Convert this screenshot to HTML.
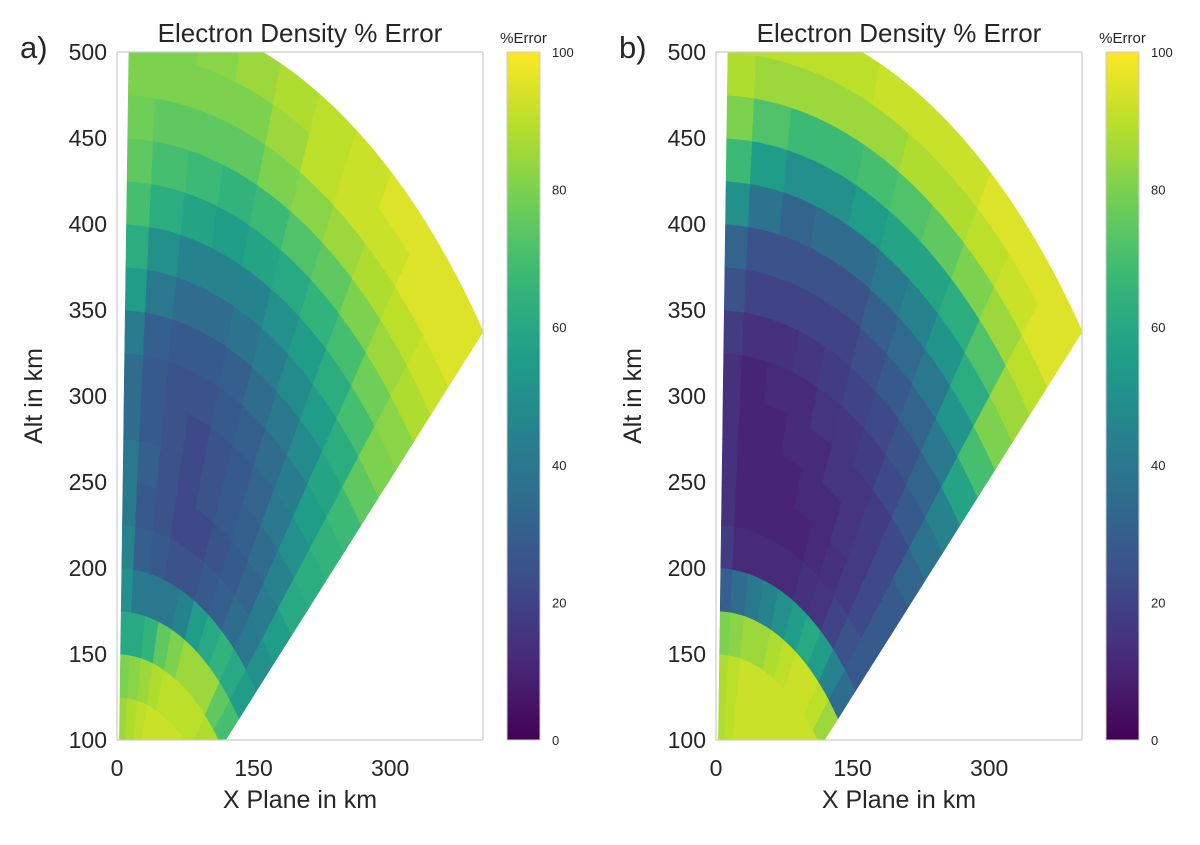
<!DOCTYPE html>
<html><head><meta charset="utf-8">
<style>
body{margin:0;background:#fff;font-family:"Liberation Sans",sans-serif;}
svg text{font-family:"Liberation Sans",sans-serif;fill:#262626;}
</style></head>
<body>
<svg id="fig" width="1200" height="840"></svg>
<script>
// radial bins (km, lower edge) and angle bins (deg, lower edge)
const radii = [100,125,150,175,200,225,250,275,300,325,350,375,400,425,450,475,500];
const angles = [40,45,50,55,60,65,70,75,80,85];
const xTicks = [0,150,300];
const yTicks = [100,150,200,250,300,350,400,450,500];
const cbTicks = [0,20,40,60,80,100];
const errA = [
[92,92,92,92,92,92,92,90,88,85],
[88,88,90,90,90,90,88,85,82,80],
[70,75,85,85,85,80,75,65,60,60],
[55,60,65,60,55,45,40,40,40,50],
[50,40,35,30,28,25,25,28,30,45],
[55,42,32,28,25,22,22,25,28,40],
[60,45,35,30,28,25,22,25,30,40],
[62,50,40,32,28,25,22,25,28,35],
[65,55,42,35,30,28,25,25,28,35],
[68,58,48,40,35,30,28,28,30,42],
[75,62,55,48,42,38,35,35,40,55],
[80,70,62,55,50,45,45,45,50,62],
[82,78,70,65,60,58,55,58,62,70],
[88,85,80,75,72,68,65,68,70,75],
[92,90,88,85,82,80,75,75,75,78],
[95,95,92,92,90,85,80,80,80,80],
[95,95,95,92,90,88,85,82,80,80]];
const errB = [
[92,92,92,92,92,92,92,92,90,88],
[92,92,92,92,92,92,92,92,90,88],
[85,90,92,92,90,88,85,85,82,80],
[35,45,55,60,55,50,45,40,35,30],
[28,25,20,15,14,12,12,12,12,18],
[28,22,17,14,12,10,10,10,10,14],
[28,22,17,15,12,12,10,10,10,14],
[32,22,18,15,15,12,12,10,10,14],
[38,28,22,18,16,15,12,12,10,14],
[45,32,26,22,20,18,16,14,14,18],
[58,40,32,28,24,20,20,20,20,25],
[70,52,40,34,30,25,25,25,25,32],
[80,62,52,45,40,35,35,32,38,50],
[85,72,62,58,58,55,50,50,55,68],
[90,85,80,75,72,70,68,68,72,80],
[95,92,90,88,88,85,85,85,85,88],
[95,95,95,92,92,92,90,90,90,90]];

const NS="http://www.w3.org/2000/svg";
const svg=document.getElementById('fig');
function mk(t,a,p){const e=document.createElementNS(NS,t);for(const k in a)e.setAttribute(k,a[k]);(p||svg).appendChild(e);return e;}
const vir=[[68,1,84],[72,40,120],[62,74,137],[49,104,142],[38,130,142],[31,158,137],[53,183,121],[110,206,88],[181,222,43],[253,231,37]];
function cmap(v){v=Math.max(0,Math.min(100,v))/100*9;const i=Math.min(8,Math.floor(v)),f=v-i;const a=vir[i],b=vir[i+1];
return 'rgb('+a.map((c,k)=>Math.round(c+(b[k]-c)*f)).join(',')+')';}

function panel(ox,label,data,id){
  const L=ox, T=52, W=366, H=688, XMAX=402, AMAX=88.5;
  const sx=x=>L+x/XMAX*W, sy=y=>T+H-(y-100)/400*H;
  const g=mk('g',{});
  
  
  const cp=mk('clipPath',{id:'clip'+id},g);
  mk('rect',{x:L,y:T,width:W,height:H},cp);
  const cells=mk('g',{'clip-path':'url(#clip'+id+')'},g);
  
  
  const dr=radii[1]-radii[0], da=angles[1]-angles[0];
  radii.forEach((r,i)=>angles.forEach((a,j)=>{
    const a1=Math.min(a+da,AMAX);
    const pts=[];
    for(let t=0;t<=5;t++){const th=(a+(a1-a)*t/5)*Math.PI/180;pts.push([sx(r*Math.cos(th)),sy(r*Math.sin(th))]);}
    for(let t=5;t>=0;t--){const th=(a+(a1-a)*t/5)*Math.PI/180;pts.push([sx((r+dr)*Math.cos(th)),sy((r+dr)*Math.sin(th))]);}
    const c=cmap(data[i][j]);
    const p=mk('polygon',{points:pts.map(q=>q[0].toFixed(1)+','+q[1].toFixed(1)).join(' '),fill:c,stroke:c,'stroke-width':0.6},cells);
    
    
  }));
  const fr=mk('rect',{x:L,y:T,width:W,height:H,fill:'none',stroke:'#cccccc','stroke-width':1.2},g);
  
  xTicks.forEach(v=>{const t=mk('text',{x:sx(v),y:776,'font-size':23,'text-anchor':'middle'},g);t.textContent=v;
    });
  yTicks.forEach(v=>{const t=mk('text',{x:L-10,y:sy(v)+8,'font-size':23,'text-anchor':'end'},g);t.textContent=v;
    });
  let t=mk('text',{x:L+W/2,y:42,'font-size':26,'text-anchor':'middle'},g);t.textContent='Electron Density % Error';
  
  t=mk('text',{x:L+W/2,y:808,'font-size':25,'text-anchor':'middle'},g);t.textContent='X Plane in km';
  
  t=mk('text',{x:0,y:0,'font-size':25,'text-anchor':'middle',transform:'translate('+(L-75)+','+(T+H/2)+') rotate(-90)'},g);t.textContent='Alt in km';
  
  t=mk('text',{x:L-97,y:58,'font-size':31},g);t.textContent=label;
  
  // colorbar
  const cx=L+390, cw=33;
  const gid='grad'+id;const lg=mk('linearGradient',{id:gid,x1:0,y1:1,x2:0,y2:0},g);
  for(let k=0;k<=20;k++)mk('stop',{offset:k/20,'stop-color':cmap(k*5)},lg);
  const cb=mk('rect',{x:cx,y:T,width:cw,height:H,fill:'url(#'+gid+')',stroke:'#cccccc','stroke-width':1},g);
  
  cbTicks.forEach(v=>{const tt=mk('text',{x:cx+cw+12,y:T+H-v/100*H+5,'font-size':13},g);tt.textContent=v;
    });
  t=mk('text',{x:cx+cw/2,y:43,'font-size':15,'text-anchor':'middle'},g);t.textContent='%Error';
  
}
panel(117,'a)',errA,'a');
panel(716,'b)',errB,'b');
</script>
</body></html>
